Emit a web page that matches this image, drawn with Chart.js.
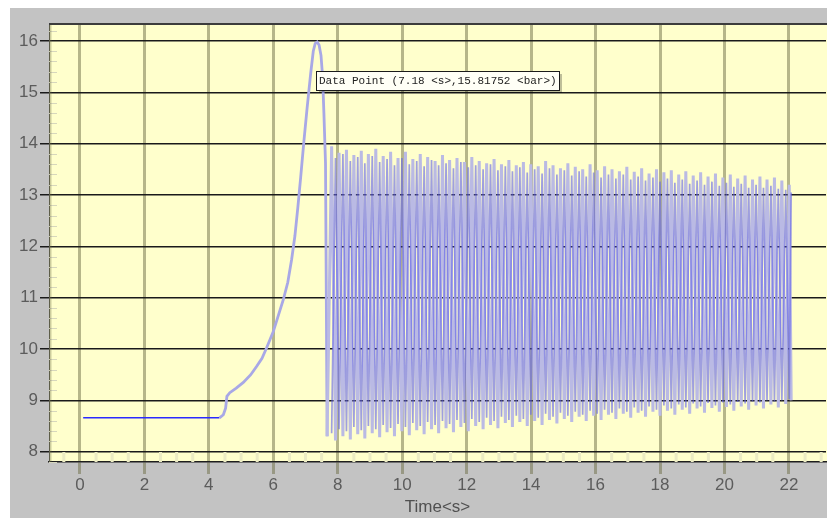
<!DOCTYPE html>
<html>
<head>
<meta charset="utf-8">
<script src="https://cdn.jsdelivr.net/npm/chart.js@4.4.1/dist/chart.umd.min.js"></script>
<style>
  html, body { margin: 0; padding: 0; background: #fff; }
  #wrap { width: 827px; height: 518px; }
</style>
</head>
<body>
<div id="wrap"><canvas id="chart" width="827" height="518"></canvas></div>
<script>
// Axis ticks
const xTicks = [0, 2, 4, 6, 8, 10, 12, 14, 16, 18, 20, 22];
const yTicks = [8, 9, 10, 11, 12, 13, 14, 15, 16];

// Start-up: flat level, then the pressure ramp and the first peak
const rampT = [0.1, 4.33, 4.45, 4.52, 4.56, 4.65, 4.85, 5.07, 5.3, 5.48, 5.65, 5.79, 6.0, 6.15, 6.31,
               6.45, 6.57, 6.67, 6.76, 6.85, 6.95, 7.05, 7.16, 7.24, 7.3, 7.36, 7.42, 7.48, 7.53, 7.57, 7.62, 7.67];
const rampV = [8.66, 8.66, 8.72, 8.85, 9.08, 9.15, 9.24, 9.35, 9.5, 9.66, 9.82, 10.02, 10.34, 10.64, 10.96,
               11.3, 11.75, 12.2, 12.75, 13.35, 14.05, 14.7, 15.37, 15.8, 15.95, 15.98, 15.92, 15.72, 15.3, 14.6, 13.62, 8.3];

// Oscillation times: tall (light) peaks and the instants half a cycle later
const peakT = [7.81, 8.04, 8.27, 8.50, 8.73, 8.95, 9.18, 9.41, 9.64, 9.87,
               10.10, 10.33, 10.56, 10.79, 11.02, 11.25, 11.47, 11.70, 11.93, 12.16,
               12.39, 12.62, 12.85, 13.08, 13.31, 13.54, 13.76, 13.99, 14.22, 14.45,
               14.68, 14.91, 15.14, 15.37, 15.60, 15.83, 16.05, 16.28, 16.51, 16.74,
               16.97, 17.20, 17.43, 17.66, 17.89, 18.12, 18.35, 18.58, 18.80, 19.03,
               19.26, 19.49, 19.72, 19.95, 20.18, 20.41, 20.64, 20.87, 21.10, 21.32,
               21.55, 21.78, 22.01];
const troughT = [7.93, 8.16, 8.39, 8.62, 8.84, 9.07, 9.30, 9.53, 9.76, 9.99,
                 10.22, 10.45, 10.68, 10.91, 11.13, 11.36, 11.59, 11.82, 12.05, 12.28,
                 12.51, 12.74, 12.97, 13.20, 13.42, 13.65, 13.88, 14.11, 14.34, 14.57,
                 14.80, 15.03, 15.26, 15.49, 15.71, 15.94, 16.17, 16.40, 16.63, 16.86,
                 17.09, 17.32, 17.55, 17.78, 18.00, 18.23, 18.46, 18.69, 18.92, 19.15,
                 19.38, 19.61, 19.84, 20.06, 20.29, 20.52, 20.75, 20.98, 21.21, 21.44,
                 21.67, 21.90, 22.07];

// Light trace: upper values at peakT, lower values at troughT
const peakV = [13.95, 13.82, 13.88, 13.78, 13.86, 13.80, 13.90, 13.76, 13.84, 13.72,
               13.84, 13.70, 13.80, 13.74, 13.66, 13.78, 13.68, 13.72, 13.64, 13.74,
               13.66, 13.62, 13.70, 13.60, 13.68, 13.58, 13.64, 13.60, 13.56, 13.66,
               13.58, 13.52, 13.62, 13.55, 13.50, 13.60, 13.48, 13.56, 13.50, 13.46,
               13.55, 13.45, 13.52, 13.42, 13.50, 13.44, 13.48, 13.40, 13.46, 13.38,
               13.44, 13.36, 13.42, 13.34, 13.40, 13.32, 13.38, 13.30, 13.36, 13.30,
               13.34, 13.28, 13.20];
const troughV = [8.22, 8.30, 8.24, 8.34, 8.26, 8.36, 8.28, 8.38, 8.30, 8.40,
                 8.32, 8.42, 8.34, 8.44, 8.36, 8.46, 8.38, 8.48, 8.40, 8.50,
                 8.44, 8.52, 8.46, 8.56, 8.48, 8.58, 8.50, 8.60, 8.52, 8.62,
                 8.55, 8.64, 8.58, 8.68, 8.60, 8.70, 8.62, 8.72, 8.64, 8.74,
                 8.66, 8.76, 8.68, 8.78, 8.70, 8.80, 8.72, 8.82, 8.74, 8.84,
                 8.76, 8.85, 8.78, 8.87, 8.80, 8.88, 8.82, 8.90, 8.84, 8.92,
                 8.86, 8.93, 9.00];

// Dark trace: upper values at troughT, lower values at peakT
const darkPeakV = [13.72, 13.80, 13.66, 13.74, 13.62, 13.76, 13.64, 13.70, 13.58, 13.72,
                   13.60, 13.66, 13.56, 13.68, 13.58, 13.62, 13.52, 13.64, 13.54, 13.58,
                   13.50, 13.60, 13.48, 13.56, 13.46, 13.54, 13.44, 13.50, 13.42, 13.52,
                   13.40, 13.48, 13.38, 13.46, 13.36, 13.44, 13.34, 13.40, 13.32, 13.40,
                   13.30, 13.36, 13.28, 13.34, 13.26, 13.32, 13.24, 13.30, 13.22, 13.28,
                   13.20, 13.26, 13.18, 13.24, 13.16, 13.22, 13.14, 13.20, 13.14, 13.18,
                   13.12, 13.10, 13.05];
const darkTroughV = [8.36, 8.44, 8.40, 8.48, 8.42, 8.50, 8.44, 8.52, 8.46, 8.54,
                     8.48, 8.56, 8.50, 8.58, 8.52, 8.60, 8.54, 8.62, 8.56, 8.64,
                     8.58, 8.66, 8.60, 8.68, 8.62, 8.70, 8.64, 8.72, 8.66, 8.74,
                     8.68, 8.76, 8.70, 8.78, 8.72, 8.80, 8.74, 8.82, 8.76, 8.84,
                     8.78, 8.86, 8.80, 8.88, 8.82, 8.90, 8.84, 8.92, 8.86, 8.94,
                     8.88, 8.95, 8.90, 8.96, 8.92, 8.97, 8.94, 8.98, 8.96, 9.00,
                     8.98, 9.00, 9.02];

// Marked data point
const tipX = 7.18;
const tipY = 15.81752;
const tipText = 'Data Point (7.18 <s>,15.81752 <bar>)';

// build point lists
const lightPoints = rampT.map((t, i) => ({ x: t, y: rampV[i] }));
const darkPoints = [];
peakT.forEach((t, i) => {
    lightPoints.push({ x: t, y: peakV[i] });
    lightPoints.push({ x: troughT[i], y: troughV[i] });
    darkPoints.push({ x: t, y: darkTroughV[i] });
    darkPoints.push({ x: troughT[i], y: darkPeakV[i] });
});

const labelFont = { family: 'Liberation Sans', size: 17 };
const labelColor = '#5c5c5c';
const oliveGrid = 'rgba(110, 110, 70, 0.5)';

// window-style frame: grey panel, yellow plot area
const framePlugin = {
    id: 'frame',
    beforeDraw(chart) {
        const { ctx, chartArea: a, width, height } = chart;
        ctx.save();
        ctx.fillStyle = '#ffffff';
        ctx.fillRect(0, 0, width, height);
        ctx.fillStyle = '#c3c3c3';
        ctx.fillRect(10, 8, width - 10, height - 8);
        ctx.fillStyle = '#ffffcc';
        ctx.fillRect(a.left, a.top, width - a.left, a.bottom - a.top);
        ctx.restore();
    },
    beforeDatasetsDraw(chart) {
        const { ctx, chartArea: a, scales } = chart;
        ctx.save();
        // minor ticks along the bottom edge
        ctx.strokeStyle = '#ececc4';
        ctx.lineWidth = 3;
        for (let v = -0.5; v <= 23; v += 0.5) {
            if (v % 2 === 0) continue;
            const px = scales.x.getPixelForValue(v);
            ctx.beginPath();
            ctx.moveTo(px, a.bottom - 10);
            ctx.lineTo(px, a.bottom);
            ctx.stroke();
        }
        // minor ticks along the left edge
        ctx.strokeStyle = '#d6d6bc';
        ctx.lineWidth = 1;
        for (let k = 39; k <= 81; k++) {
            if (k % 5 === 0) continue;
            const py = Math.round(scales.y.getPixelForValue(k / 5)) + 0.5;
            ctx.beginPath();
            ctx.moveTo(a.left, py);
            ctx.lineTo(a.left + 8, py);
            ctx.stroke();
        }
        // light edge on the left
        ctx.strokeStyle = 'rgba(110, 110, 70, 0.35)';
        ctx.lineWidth = 2;
        ctx.beginPath();
        ctx.moveTo(a.left + 1.5, a.top);
        ctx.lineTo(a.left + 1.5, a.bottom);
        ctx.stroke();
        ctx.restore();
    },
    afterDraw(chart) {
        const { ctx, chartArea: a, scales } = chart;
        ctx.save();
        // top border
        ctx.strokeStyle = '#3c3c3c';
        ctx.lineWidth = 2;
        ctx.beginPath();
        ctx.moveTo(a.left, a.top);
        ctx.lineTo(a.right + 1, a.top);
        ctx.stroke();

        // data point label box
        const bx = Math.round(scales.x.getPixelForValue(tipX)) + 5;
        const by = Math.round(scales.y.getPixelForValue(tipY)) + 21;
        const bw = 243, bh = 19;
        ctx.fillStyle = 'rgba(0, 0, 0, 0.25)';
        ctx.fillRect(bx + 3, by + 3, bw, bh);
        ctx.fillStyle = '#fffff6';
        ctx.fillRect(bx, by, bw, bh);
        ctx.strokeStyle = '#1a1a1a';
        ctx.lineWidth = 1;
        ctx.strokeRect(bx + 0.5, by + 0.5, bw, bh);
        ctx.fillStyle = '#222';
        ctx.font = '11px "Liberation Mono"';
        ctx.textBaseline = 'middle';
        ctx.fillText(tipText, bx + 3, by + bh / 2 + 1);
        ctx.restore();
    }
};

new Chart(document.getElementById('chart'), {
    type: 'line',
    data: {
        datasets: [{
            data: darkPoints,
            order: 0,
            pointRadius: 0,
            tension: 0,
            borderColor: 'rgba(100, 100, 232, 0.62)',
            borderWidth: 1.7
        }, {
            data: lightPoints,
            order: 1,
            pointRadius: 0,
            tension: 0,
            borderColor: '#babae4',
            borderWidth: 3,
            segment: {
                borderColor: c => (c.p1.parsed.x <= 4.4 ? '#2a2aff' : (c.p1.parsed.x < 7.7 ? '#a8a8e6' : '#babae4')),
                borderWidth: c => (c.p1.parsed.x <= 4.4 ? 1.5 : (c.p1.parsed.x < 7.7 ? 2.8 : 3))
            }
        }]
    },
    options: {
        responsive: false,
        animation: false,
        events: [],
        layout: { padding: { left: 0, top: 24, right: 1, bottom: 0 } },
        plugins: {
            legend: { display: false },
            tooltip: { enabled: false }
        },
        scales: {
            x: {
                type: 'linear',
                position: 'bottom',
                min: -0.96,
                max: 23.15,
                z: 1,
                afterBuildTicks: s => { s.ticks = xTicks.map(v => ({ value: v })); },
                afterFit: s => { s.height = 56; },
                grid: {
                    color: oliveGrid,
                    lineWidth: 3,
                    drawTicks: true,
                    tickLength: 12,
                    tickColor: oliveGrid,
                    tickWidth: 3
                },
                border: { display: true, color: '#1e1e1e', width: 1.5 },
                ticks: { font: labelFont, color: labelColor, padding: 1, maxRotation: 0, autoSkip: false },
                title: {
                    display: true,
                    text: 'Time<s>',
                    font: labelFont,
                    color: '#505050',
                    padding: { top: 0, bottom: 0 }
                }
            },
            y: {
                type: 'linear',
                position: 'left',
                min: 7.8,
                max: 16.33,
                z: 1,
                afterBuildTicks: s => { s.ticks = yTicks.map(v => ({ value: v })); },
                afterFit: s => { s.width = 49; },
                grid: {
                    color: '#1a1a1a',
                    lineWidth: 1.5,
                    drawTicks: true,
                    tickLength: 9,
                    tickColor: '#1a1a1a'
                },
                border: { display: true, color: '#5a5a4a', width: 1 },
                ticks: { font: labelFont, color: labelColor, padding: 2 }
            }
        }
    },
    plugins: [framePlugin]
});
</script>
</body>
</html>
